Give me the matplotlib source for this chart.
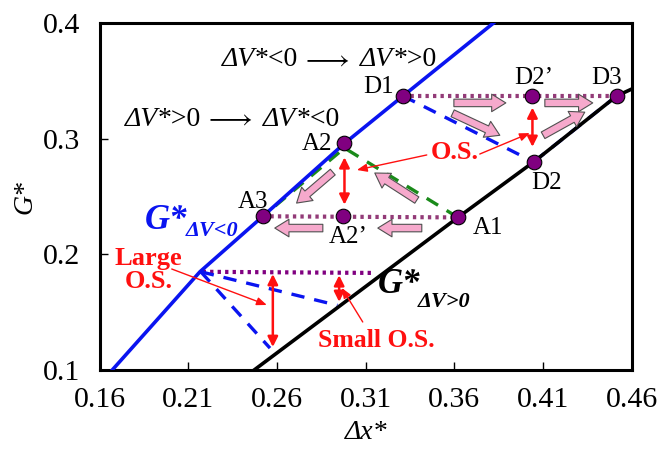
"""Overshoot schematic on the G*-dx* plane."""

import matplotlib
matplotlib.use("Agg")
import matplotlib.pyplot as plt
from matplotlib.transforms import offset_copy

plt.rcParams["font.family"] = ["Liberation Serif", "DejaVu Serif"]
plt.rcParams["mathtext.fontset"] = "custom"
plt.rcParams["mathtext.rm"] = "Liberation Serif"
plt.rcParams["mathtext.it"] = "Liberation Serif:italic"
plt.rcParams["mathtext.bf"] = "Liberation Serif:bold"

# boundary curves
g_neg_x = [0.167, 0.2165, 0.252, 0.298, 0.331, 0.382]
g_neg_y = [0.100, 0.185, 0.233, 0.296, 0.337, 0.400]
g_pos_x = [0.247, 0.362, 0.4047, 0.4515, 0.460]
g_pos_y = [0.100, 0.232, 0.280, 0.337, 0.343]

# state points
pt_names = ["D1", "D2\u2019", "D3", "D2", "A1", "A2", "A3", "A2\u2019"]
pt_x = [0.331, 0.404, 0.4515, 0.4047, 0.362, 0.298, 0.252, 0.297]
pt_y = [0.337, 0.337, 0.337, 0.280, 0.232, 0.296, 0.233, 0.233]
lbl_x = [0.3173, 0.4048, 0.4459, 0.4120, 0.3788, 0.2824, 0.2463, 0.3000]
lbl_y = [0.3447, 0.3525, 0.3525, 0.2617, 0.2228, 0.2954, 0.2453, 0.2150]

# large / small overshoot sketch
os_flat_x = [0.218, 0.315]
os_flat_y = [0.185, 0.184]
large_x = [0.217, 0.256]
large_y = [0.185, 0.119]
small_x = [0.217, 0.294]
small_y = [0.185, 0.156]

# pink process arrows: (x_tail, y_tail, x_head, y_head)
pink_arrows = [
    (0.3597, 0.331, 0.389, 0.331),
    (0.411, 0.331, 0.438, 0.331),
    (0.359, 0.322, 0.3856, 0.303),
    (0.410, 0.303, 0.4335, 0.323),
    (0.3388, 0.247, 0.3151, 0.2704),
    (0.2914, 0.2712, 0.271, 0.2444),
    (0.3416, 0.2228, 0.3168, 0.2228),
    (0.2858, 0.2228, 0.2587, 0.2228),
]

# red double arrows (x, y_top, y_bottom)
os_bars = [
    (0.298, 0.284, 0.243),
    (0.404, 0.327, 0.293),
    (0.2576, 0.183, 0.120),
    (0.295, 0.182, 0.159),
]

# red pointer arrows: (x_tail, y_tail, x_head, y_head)
pointers = [
    (0.3444, 0.286, 0.305, 0.273),
    (0.3743, 0.2868, 0.4025, 0.3049),
    (0.2006, 0.1874, 0.2542, 0.1563),
    (0.3083, 0.1416, 0.2965, 0.171),
]

blue = "#0a14f0"
purple = "#800080"
dotc = "#933b78"
pink = "#f6a9cc"
red = "#ff1010"
dash = (0, (4, 3))
dots = (0, (0.8, 1.0))

fig = plt.figure(figsize=(6.65, 4.53), dpi=100)
ax = fig.add_axes([0.150, 0.183, 0.800, 0.766])
renderer = fig.canvas.get_renderer()


def piece_text(x, y, pieces, size):
    """Write text pieces one after another on a shared baseline."""
    trans = ax.transData
    for s, st, gap in pieces:
        t = ax.text(x, y, s, fontsize=size, style=st, ha="left", va="baseline",
                    transform=trans)
        w = t.get_window_extent(renderer).width + gap
        trans = offset_copy(trans, fig=fig, x=w, y=0, units="dots")


ax.plot(g_neg_x, g_neg_y, color=blue, lw=2.6, zorder=3)
ax.plot(g_pos_x, g_pos_y, color="black", lw=2.6, zorder=3)

# dotted horizontals
ax.plot([pt_x[0], pt_x[2]], [pt_y[0], pt_y[2]], color=dotc, lw=3, ls=dots, zorder=2)
ax.plot([pt_x[6], pt_x[4]], [pt_y[6], pt_y[4]], color=dotc, lw=3, ls=dots, zorder=2)
ax.plot(os_flat_x, os_flat_y, color=purple, lw=3, ls=dots, zorder=2)

# dashed paths
ax.plot([pt_x[0], pt_x[3]], [pt_y[0], pt_y[3]], color=blue, lw=2.4, ls=dash, zorder=2)
ax.plot([pt_x[3], pt_x[2]], [pt_y[3], pt_y[2]], color=blue, lw=2.4, ls=dash, zorder=2)
ax.plot([pt_x[4], pt_x[5], pt_x[6]], [pt_y[4], pt_y[5] - 0.004, pt_y[6]],
        color="#1a8a1a", lw=2.4, ls=dash, zorder=2)
ax.plot(large_x, large_y, color=blue, lw=2.4, ls=dash, zorder=2)
ax.plot(small_x, small_y, color=blue, lw=2.4, ls=dash, zorder=2)

for x0, y0, x1, y1 in pink_arrows:
    ax.annotate("", xy=(x1, y1), xytext=(x0, y0),
                arrowprops=dict(arrowstyle="simple,head_length=0.85,head_width=1.05,tail_width=0.45",
                                fc=pink, ec="#505050", lw=0.8,
                                shrinkA=0, shrinkB=0, mutation_scale=12),
                zorder=4)

for x, y0, y1 in os_bars:
    ax.annotate("", xy=(x, y1), xytext=(x, y0),
                arrowprops=dict(arrowstyle="<|-|>,head_length=0.5,head_width=0.25",
                                color=red, lw=1.8, shrinkA=0, shrinkB=0,
                                mutation_scale=12),
                zorder=4)

for x0, y0, x1, y1 in pointers:
    ax.annotate("", xy=(x1, y1), xytext=(x0, y0),
                arrowprops=dict(arrowstyle="-|>,head_length=0.5,head_width=0.2",
                                color=red, lw=1.0, shrinkA=0, shrinkB=0,
                                mutation_scale=12),
                zorder=4)

ax.plot(pt_x, pt_y, "o", ms=10.5, mfc=purple, mec="black", mew=0.8, zorder=5)

for name, x, y in zip(pt_names, lbl_x, lbl_y):
    ax.text(x, y, name, fontsize=18, ha="center", va="center", zorder=6)

arrow = "$\\longrightarrow$"
piece_text(0.2288, 0.3628, [("\u0394V", "italic", 0), ("*<0", "normal", 3),
                            (arrow, "normal", 11),
                            ("\u0394V", "italic", 0), ("*>0", "normal", 0)], 20)
piece_text(0.1741, 0.3110, [("\u0394V", "italic", 0), ("*>0", "normal", 3),
                            (arrow, "normal", 11),
                            ("\u0394V", "italic", 0), ("*<0", "normal", 0)], 20)

# curve labels
ax.text(0.1854, 0.2297, "G*", color=blue, fontsize=25, fontweight="bold",
        style="italic", ha="left", va="center")
ax.text(0.2085, 0.2205, "\u0394V<0", color=blue, fontsize=16, fontweight="bold",
        style="italic", ha="left", va="center")
ax.text(0.3168, 0.1736, "G*", color="black", fontsize=25, fontweight="bold",
        style="italic", ha="left", va="center")
ax.text(0.3395, 0.1590, "\u0394V>0", color="black", fontsize=16, fontweight="bold",
        style="italic", ha="left", va="center")

ax.text(0.3602, 0.2885, "O.S.", color=red, fontsize=19, fontweight="bold",
        ha="center", va="center")
ax.text(0.1876, 0.1865, "Large\nO.S.", color=red, fontsize=19, fontweight="bold",
        ha="center", va="center", linespacing=1.0)
ax.text(0.3162, 0.126, "Small O.S.", color=red, fontsize=18.5, fontweight="bold",
        ha="center", va="center")

ax.set_xlim(0.16, 0.46)
ax.set_ylim(0.1, 0.4)
ax.set_xticks([0.16, 0.21, 0.26, 0.31, 0.36, 0.41, 0.46])
ax.set_yticks([0.1, 0.2, 0.3, 0.4])
ax.set_xticklabels(["0.16", "0.21", "0.26", "0.31", "0.36", "0.41", "0.46"])
ax.set_yticklabels(["0.1", "0.2", "0.3", "0.4"])
ax.tick_params(direction="in", length=6, width=1, labelsize=21.5, pad=12)
ax.tick_params(axis="y", pad=14)
for s in ax.spines.values():
    s.set_linewidth(2.2)

ax.set_xlabel("\u0394x*", fontsize=20, style="italic", labelpad=5)
ax.set_ylabel("G*", fontsize=20, style="italic", labelpad=4)

fig.savefig("out.png", dpi=100)
